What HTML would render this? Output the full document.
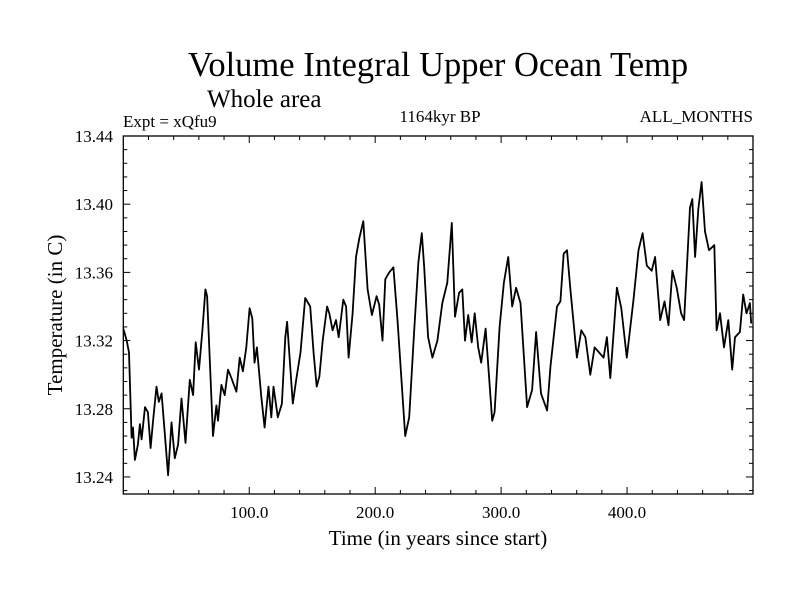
<!DOCTYPE html>
<html><head><meta charset="utf-8"><style>
body{margin:0;background:#fff}
svg text{font-family:"Liberation Serif",serif;fill:#000}
</style></head><body>
<svg id="chart" width="800" height="600" xmlns="http://www.w3.org/2000/svg">
<rect width="800" height="600" fill="#fff"/>
<text x="438" y="76" font-size="34.5" text-anchor="middle">Volume Integral Upper Ocean Temp</text>
<text x="207" y="107" font-size="25">Whole area</text>
<text x="123" y="127" font-size="17">Expt = xQfu9</text>
<text x="440" y="122" font-size="17" text-anchor="middle">1164kyr BP</text>
<text x="753" y="122" font-size="17" text-anchor="end">ALL_MONTHS</text>
<text x="438" y="545" font-size="21" text-anchor="middle">Time (in years since start)</text>
<text transform="translate(62,315) rotate(-90)" font-size="21" text-anchor="middle">Temperature (in C)</text>
<g id="axes"></g>
<path id="line" fill="none" stroke="#000" stroke-width="1.8" stroke-linejoin="round"/>
</svg>
<script>
const years=[0,2.7,4.5,6.6,7.7,9.2,11.6,13.2,14.5,17.2,19.5,21.7,23.5,26.4,28.2,30.4,35.6,38.3,40.9,43.5,46.2,49.4,52.8,55.4,57.5,60.1,62.8,65.2,66.5,71.2,73.9,75.2,77.9,80.5,83.1,85.8,89.8,92.4,95,97.7,100.3,102.4,104.2,106.1,109.6,112.2,115.3,117.5,119.3,122.7,125.9,128.6,130.1,134.6,137.3,140.7,144.4,148.4,151.2,153.6,155.7,158.3,161.8,163.6,166.2,168.9,171,174.7,176.9,178.9,182.1,184.8,187.4,190.6,194,197.4,201.1,203.2,205.8,208,211.1,214.5,217.7,223.8,227,230.9,234.3,237,238.9,242,245.4,249.4,253.3,257.3,260.8,263.4,266.6,269.2,271.3,273.9,276.6,279,281.8,284.2,287.7,292.9,294.8,298.8,302.2,305.6,308.8,311.9,315.4,320.6,324.6,327.8,331.7,336.5,339.2,344.4,347.1,349.7,352.3,355,360.2,363.7,366.9,370.8,374.2,381.4,384,386.7,391.9,395.4,399.8,405.1,409.1,412.3,415.7,419.6,422.3,426.3,429.7,432.9,436,439.4,442.9,445.3,450,451.8,454,456.6,459.2,461.9,465.1,469.3,471.1,473.8,477,480.4,483.5,485.7,489.6,492.2,494.8,497.5,498.6];
const temps=[13.327,13.320,13.313,13.263,13.269,13.250,13.259,13.271,13.262,13.281,13.278,13.257,13.272,13.293,13.284,13.289,13.241,13.272,13.251,13.259,13.286,13.260,13.297,13.288,13.319,13.303,13.326,13.350,13.346,13.264,13.282,13.273,13.294,13.288,13.303,13.298,13.290,13.310,13.302,13.316,13.339,13.333,13.307,13.316,13.287,13.269,13.293,13.275,13.293,13.275,13.283,13.322,13.331,13.283,13.297,13.313,13.345,13.340,13.312,13.293,13.299,13.320,13.340,13.336,13.326,13.332,13.322,13.344,13.340,13.310,13.336,13.369,13.380,13.390,13.350,13.335,13.346,13.341,13.320,13.356,13.360,13.363,13.332,13.264,13.275,13.325,13.366,13.383,13.363,13.322,13.310,13.320,13.342,13.354,13.389,13.334,13.348,13.350,13.320,13.335,13.319,13.336,13.316,13.307,13.327,13.273,13.278,13.328,13.354,13.369,13.340,13.351,13.342,13.281,13.291,13.325,13.289,13.279,13.305,13.340,13.343,13.371,13.373,13.350,13.310,13.326,13.322,13.300,13.316,13.310,13.322,13.298,13.351,13.339,13.310,13.344,13.373,13.383,13.364,13.361,13.369,13.332,13.343,13.329,13.361,13.351,13.336,13.332,13.398,13.403,13.369,13.397,13.413,13.384,13.373,13.376,13.326,13.336,13.316,13.332,13.303,13.322,13.325,13.347,13.336,13.342,13.330];
const yTickLabels=["13.24","13.28","13.32","13.36","13.40","13.44"];
const xTickLabels=["100.0","200.0","300.0","400.0"];
const X0=123.3,X1=753,Y0=494,Y1=136,XMIN=0,XMAX=500,YMIN=13.23,YMAX=13.44;
function sx(t){return X0+(t-XMIN)/(XMAX-XMIN)*(X1-X0);}
function sy(v){return Y0-(v-YMIN)/(YMAX-YMIN)*(Y0-Y1);}
const NS="http://www.w3.org/2000/svg";
const axes=document.getElementById('axes');
function mk(tag,attrs){const e=document.createElementNS(NS,tag);for(const k in attrs)e.setAttribute(k,attrs[k]);axes.appendChild(e);return e;}
const frame=mk('rect',{x:X0,y:Y1,width:X1-X0,height:Y0-Y1,fill:'none',stroke:'#000','stroke-width':1.3});


for(let t=20;t<XMAX;t+=20){
  const major=t%100===0,L=major?7:4,x=sx(t);
  const a=mk('line',{x1:x,x2:x,y1:Y0,y2:Y0-L,stroke:'#000'});
  
  
  const b=mk('line',{x1:x,x2:x,y1:Y1,y2:Y1+L,stroke:'#000'});
  
  
}
xTickLabels.forEach(s=>{
  const tx=mk('text',{x:sx(parseFloat(s)),y:Y0+24,'font-size':17,'text-anchor':'middle'});
  tx.textContent=s;
  
  
});
for(let i=0;i<=26;i++){
  const v=13.232+i*0.008;if(v>YMAX+1e-9)break;
  const major=Math.abs(((v-13.24)/0.04)-Math.round((v-13.24)/0.04))<1e-6,L=major?7:4,y=sy(v);
  const a=mk('line',{x1:X0,x2:X0+L,y1:y,y2:y,stroke:'#000'});
  
  
  const b=mk('line',{x1:X1,x2:X1-L,y1:y,y2:y,stroke:'#000'});
  
  
}
yTickLabels.forEach(s=>{
  const tx=mk('text',{x:113,y:sy(parseFloat(s))+6,'font-size':17,'text-anchor':'end'});
  tx.textContent=s;
  
  
});
document.getElementById('line').setAttribute('d',years.map((t,i)=>(i?'L':'M')+sx(t).toFixed(1)+' '+sy(temps[i]).toFixed(1)).join(' '));
</script>
</body></html>
